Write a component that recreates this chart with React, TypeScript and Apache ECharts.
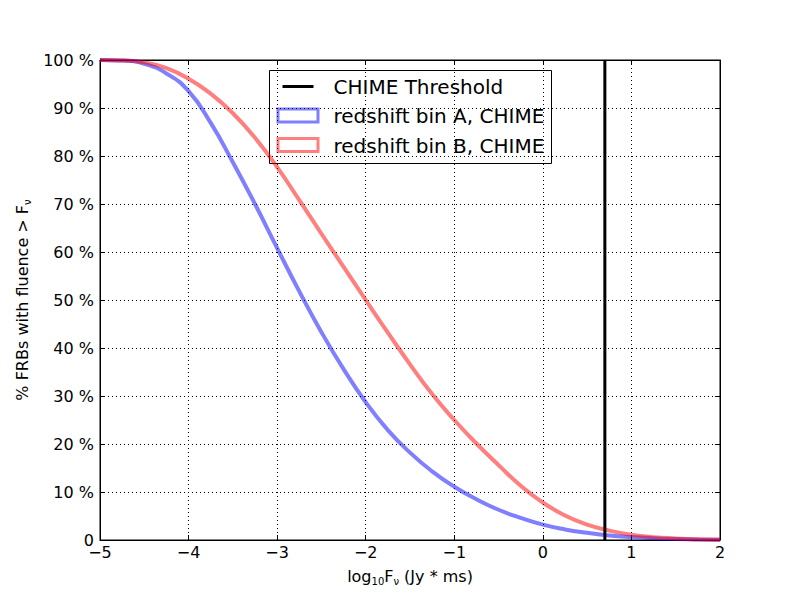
import React, { useEffect, useRef } from "react";
import * as echarts from "echarts";

const xValues = [
  -5, -4.75, -4.5, -4.25, -4, -3.75, -3.5, -3.25, -3, -2.75, -2.5, -2.25, -2,
  -1.75, -1.5, -1.25, -1, -0.75, -0.5, -0.25, 0, 0.25, 0.5, 0.75, 1, 1.25, 1.5,
  1.75, 2,
];
const binA = [
  100, 99.9, 99.2, 97.2, 93.5, 86.9, 78.7, 70, 60.8, 51.8, 43.3, 35.6, 28.7,
  22.9, 18.2, 14.3, 11.1, 8.5, 6.3, 4.6, 3.2, 2.2, 1.5, 0.95, 0.6, 0.36, 0.2,
  0.1, 0.05,
];
const binB = [
  100, 99.9, 99.5, 98.3, 96.1, 93.0, 88.9, 83.8, 77.7, 70.8, 63.8, 56.9, 50,
  43.2, 36.6, 30.4, 25.0, 20.1, 15.6, 11.3, 7.8, 5.1, 3.2, 1.95, 1.1, 0.6,
  0.33, 0.15, 0.05,
];
const thresholdX = 0.7;
const xTicks = [-5, -4, -3, -2, -1, 0, 1, 2];
const yTicks = [0, 10, 20, 30, 40, 50, 60, 70, 80, 90, 100];
const legendNames = ["CHIME Threshold", "redshift bin A, CHIME", "redshift bin B, CHIME"];

const FONT = "DejaVu Sans";
const BLUE = "rgba(0,0,255,0.5)";
const RED = "rgba(255,0,0,0.5)";

export default function App() {
  const ref = useRef<HTMLDivElement>(null);
  useEffect(() => {
    if (!ref.current) return;
    const chart = echarts.init(ref.current, undefined, { renderer: "svg" });
    const pairs = (ys: number[]) => xValues.map((x, i) => [x, ys[i]]);
    const xMin = xTicks[0];
    const xMax = xTicks[xTicks.length - 1];
    const yMin = yTicks[0];
    const yMax = yTicks[yTicks.length - 1];
    const tickStyle = { inside: true, length: 5, lineStyle: { color: "#000", width: 1 } };
    const splitStyle = { show: true, lineStyle: { color: "#000", type: [1, 3], width: 1 } };
    chart.setOption({
      animation: false,
      backgroundColor: "#fff",
      textStyle: { fontFamily: FONT },
      grid: {
        left: 100,
        right: 80,
        top: 60,
        bottom: 60,
        show: true,
        borderColor: "#000",
        borderWidth: 1,
      },
      xAxis: [
        {
          type: "value",
          min: xMin,
          max: xMax,
          interval: 1,
          position: "bottom",
          axisLine: { show: true, onZero: false, lineStyle: { color: "#000", width: 1 } },
          axisTick: tickStyle,
          splitLine: splitStyle,
          axisLabel: {
            color: "#000",
            fontFamily: FONT,
            fontSize: 16,
            lineHeight: 10,
            margin: 7,
            formatter: (v: number) => (v < 0 ? "\u2212" + Math.abs(v) : String(v)),
          },
          name: "log{sub|10}F{sub|ν} (Jy * ms)",
          nameLocation: "middle",
          nameGap: 26,
          nameTextStyle: {
            color: "#000",
            fontFamily: FONT,
            fontSize: 16,
            rich: {
              sub: { fontSize: 10, fontFamily: FONT, color: "#000", verticalAlign: "bottom", lineHeight: 20 },
            },
            lineHeight: 20,
          },
        },
        {
          type: "value",
          min: xMin,
          max: xMax,
          interval: 1,
          position: "top",
          axisLine: { show: true, onZero: false, lineStyle: { color: "#000", width: 1 } },
          axisTick: tickStyle,
          splitLine: { show: false },
          axisLabel: { show: false },
        },
      ],
      yAxis: [
        {
          type: "value",
          min: yMin,
          max: yMax,
          interval: 10,
          position: "left",
          axisLine: { show: true, onZero: false, lineStyle: { color: "#000", width: 1 } },
          axisTick: tickStyle,
          splitLine: splitStyle,
          axisLabel: {
            color: "#000",
            fontFamily: FONT,
            fontSize: 16,
            lineHeight: 10,
            margin: 6,
            formatter: (v: number) => (v === 0 ? "0" : v + " %"),
          },
          name: "% FRBs with fluence > F{sub|ν}",
          nameLocation: "middle",
          nameGap: 68,
          nameRotate: 90,
          nameTextStyle: {
            color: "#000",
            fontFamily: FONT,
            fontSize: 16,
            lineHeight: 20,
            rich: {
              sub: { fontSize: 10, fontFamily: FONT, color: "#000", verticalAlign: "bottom", lineHeight: 20 },
            },
          },
        },
        {
          type: "value",
          min: yMin,
          max: yMax,
          interval: 10,
          position: "right",
          axisLine: { show: true, onZero: false, lineStyle: { color: "#000", width: 1 } },
          axisTick: tickStyle,
          splitLine: { show: false },
          axisLabel: { show: false },
        },
      ],
      series: [
        {
          name: legendNames[1],
          type: "line",
          data: pairs(binA),
          showSymbol: false,
          smooth: 0.5,
          lineStyle: { color: BLUE, width: 4 },
          itemStyle: { color: BLUE },
          z: 3,
        },
        {
          name: legendNames[2],
          type: "line",
          data: pairs(binB),
          showSymbol: false,
          smooth: 0.5,
          lineStyle: { color: RED, width: 4 },
          itemStyle: { color: RED },
          z: 3,
        },
        {
          name: legendNames[0],
          type: "line",
          data: [
            [thresholdX, yMin],
            [thresholdX, yMax],
          ],
          showSymbol: false,
          lineStyle: { color: "#000", width: 3 },
          itemStyle: { color: "#000" },
          z: 4,
        },
      ],
      graphic: [
        {
          type: "group",
          left: 269,
          top: 70,
          z: 100,
          children: [
            {
              type: "rect",
              shape: { x: 0, y: 0, width: 282, height: 93 },
              style: { fill: "#fff", stroke: "#000", lineWidth: 1 },
            },
            {
              type: "line",
              shape: { x1: 13, y1: 16, x2: 44, y2: 16 },
              style: { stroke: "#000", lineWidth: 3 },
            },
            {
              type: "rect",
              shape: { x: 8.5, y: 38.5, width: 40, height: 13 },
              style: { fill: "none", stroke: BLUE, lineWidth: 3 },
            },
            {
              type: "rect",
              shape: { x: 8.5, y: 68, width: 40, height: 13 },
              style: { fill: "none", stroke: RED, lineWidth: 3 },
            },
            {
              type: "text",
              x: 64,
              y: 16,
              style: { text: legendNames[0], fontFamily: FONT, fontSize: 20, fill: "#000", verticalAlign: "middle" },
            },
            {
              type: "text",
              x: 64,
              y: 45.5,
              style: { text: legendNames[1], fontFamily: FONT, fontSize: 20, fill: "#000", verticalAlign: "middle" },
            },
            {
              type: "text",
              x: 64,
              y: 75,
              style: { text: legendNames[2], fontFamily: FONT, fontSize: 20, fill: "#000", verticalAlign: "middle" },
            },
          ],
        },
      ],
    });
    return () => chart.dispose();
  }, []);
  return (
    <div
      ref={ref}
      style={{ position: "absolute", left: 0, top: 0, width: 800, height: 600 }}
    />
  );
}
